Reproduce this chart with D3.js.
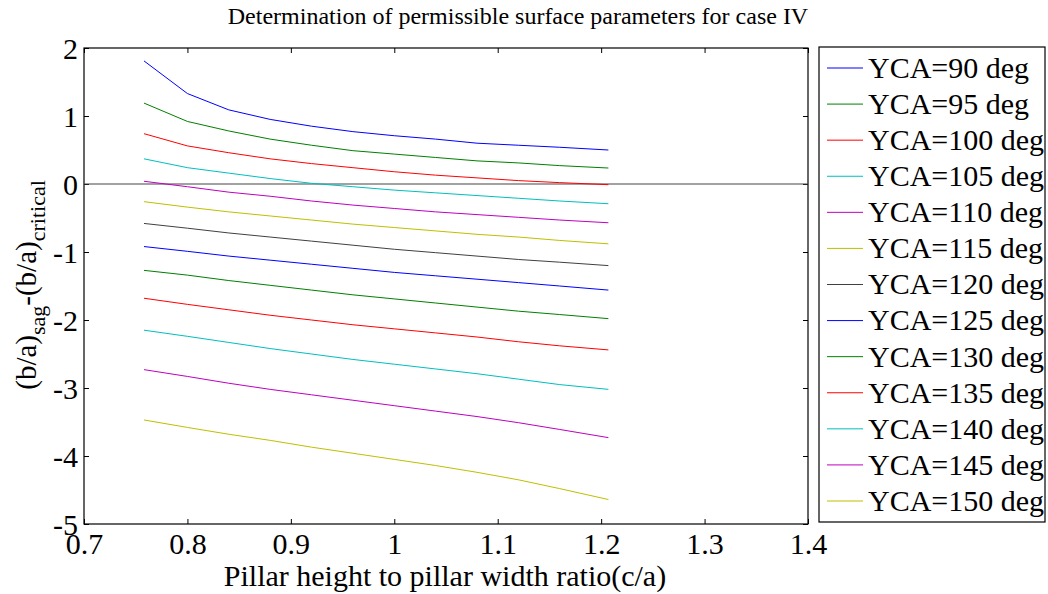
<!DOCTYPE html>
<html>
<head>
<meta charset="utf-8">
<script src="https://cdn.jsdelivr.net/npm/d3@7"></script>
<style>
  body { margin: 0; background: #fff; }
  svg text { font-family: 'Liberation Serif', serif !important; fill: #000; }
</style>
</head>
<body>
<div id="chart"></div>
<script>
'use strict';

// c/a values shared by every curve
const ratios = [0.758, 0.80, 0.84, 0.88, 0.92, 0.96, 1.00, 1.04, 1.08, 1.12, 1.16, 1.207];

// YCA angles (deg) for the legend
const angles = [90, 95, 100, 105, 110, 115, 120, 125, 130, 135, 140, 145, 150];

// (b/a)sag - (b/a)critical, one array per angle
const yca90  = [1.81, 1.33, 1.09, 0.95, 0.85, 0.77, 0.71, 0.66, 0.60, 0.57, 0.54, 0.50];
const yca95  = [1.19, 0.92, 0.78, 0.66, 0.57, 0.49, 0.44, 0.39, 0.34, 0.31, 0.27, 0.235];
const yca100 = [0.74, 0.56, 0.46, 0.37, 0.30, 0.24, 0.18, 0.13, 0.09, 0.05, 0.02, -0.01];
const yca105 = [0.37, 0.24, 0.16, 0.08, 0.01, -0.04, -0.09, -0.13, -0.17, -0.21, -0.25, -0.29];
const yca110 = [0.04, -0.04, -0.12, -0.18, -0.25, -0.31, -0.36, -0.41, -0.45, -0.49, -0.53, -0.57];
const yca115 = [-0.26, -0.34, -0.41, -0.47, -0.53, -0.59, -0.64, -0.69, -0.74, -0.78, -0.83, -0.88];
const yca120 = [-0.58, -0.65, -0.72, -0.78, -0.84, -0.90, -0.96, -1.01, -1.06, -1.11, -1.15, -1.20];
const yca125 = [-0.92, -0.99, -1.06, -1.12, -1.18, -1.24, -1.30, -1.35, -1.40, -1.45, -1.50, -1.56];
const yca130 = [-1.27, -1.34, -1.42, -1.49, -1.56, -1.63, -1.69, -1.75, -1.81, -1.87, -1.92, -1.98];
const yca135 = [-1.68, -1.77, -1.85, -1.93, -2.00, -2.07, -2.13, -2.19, -2.25, -2.32, -2.38, -2.44];
const yca140 = [-2.15, -2.24, -2.33, -2.42, -2.50, -2.58, -2.65, -2.72, -2.79, -2.87, -2.95, -3.02];
const yca145 = [-2.73, -2.83, -2.93, -3.02, -3.10, -3.18, -3.26, -3.34, -3.42, -3.51, -3.61, -3.73];
const yca150 = [-3.47, -3.58, -3.68, -3.77, -3.87, -3.96, -4.05, -4.14, -4.24, -4.35, -4.48, -4.64];

const seriesValues = [yca90, yca95, yca100, yca105, yca110, yca115, yca120,
                      yca125, yca130, yca135, yca140, yca145, yca150];

const xTicks = [0.7, 0.8, 0.9, 1.0, 1.1, 1.2, 1.3, 1.4];
const yTicks = [-5, -4, -3, -2, -1, 0, 1, 2];

// matlab default line colours, cycling
const colors = ['#0000ff', '#008000', '#ff0000', '#00bfbf', '#bf00bf', '#bfbf00', '#404040'];

const FONT = "'Liberation Serif', serif";
const width = 1048, height = 594;
const margin = {top: 48, right: 240, bottom: 70, left: 84};
const plotW = width - margin.left - margin.right;   // 724
const plotH = height - margin.top - margin.bottom;  // 476

const svg = d3.select('#chart').append('svg')
    .attr('width', width)
    .attr('height', height)
    .style('font-family', FONT);

const g = svg.append('g')
    .attr('transform', `translate(${margin.left},${margin.top})`);

const x = d3.scaleLinear().domain([0.7, 1.4]).range([0, plotW]);
const y = d3.scaleLinear().domain([-5, 2]).range([plotH, 0]);

// axes, ticks pointing inward like matlab (plain hyphen for minus)
const fmt = d => String(d);
const styleAxis = sel => {
    sel.attr('font-family', FONT);
    sel.select('.domain').remove();
    sel.selectAll('line').attr('stroke', '#000');
    sel.selectAll('text').style('font-size', '30px').style('font-family', FONT).attr('fill', '#000');
};

g.append('g')
    .attr('transform', `translate(0,${plotH})`)
    .call(d3.axisBottom(x).tickValues(xTicks).tickSize(-5).tickPadding(9).tickFormat(fmt))
    .call(styleAxis);

g.append('g')
    .call(d3.axisTop(x).tickValues(xTicks).tickSize(-5).tickFormat(''))
    .call(styleAxis);

g.append('g')
    .call(d3.axisLeft(y).tickValues(yTicks).tickSize(-5).tickPadding(6).tickFormat(fmt))
    .call(styleAxis)
    .selectAll('text').attr('dy', '0.34em');

g.append('g')
    .attr('transform', `translate(${plotW},0)`)
    .call(d3.axisRight(y).tickValues(yTicks).tickSize(-5).tickFormat(''))
    .call(styleAxis);

// box
g.append('rect')
    .attr('width', plotW).attr('height', plotH)
    .attr('fill', 'none').attr('stroke', '#000').attr('stroke-width', 1.2);

// zero reference line
g.append('line')
    .attr('x1', x(0.7)).attr('x2', x(1.4))
    .attr('y1', y(0)).attr('y2', y(0))
    .attr('stroke', '#444').attr('stroke-width', 1.2);

const line = d3.line().x((d, i) => x(ratios[i])).y(d => y(d));

g.selectAll('path.curve')
    .data(seriesValues)
    .join('path')
    .classed('curve', true)
    .attr('d', line)
    .attr('fill', 'none')
    .attr('stroke', (d, i) => colors[i % colors.length])
    .attr('stroke-width', 1);

// title
svg.append('text')
    .attr('x', 518).attr('y', 24)
    .attr('text-anchor', 'middle')
    .style('font-size', '24px')
    .text('Determination of permissible surface parameters for case IV');

// x label
svg.append('text')
    .attr('x', margin.left + plotW / 2 - 1).attr('y', 586)
    .attr('text-anchor', 'middle')
    .style('font-size', '30px')
    .text('Pillar height to pillar width ratio(c/a)');

// y label with subscripts
const yl = svg.append('text')
    .attr('transform', `translate(36,${margin.top + plotH / 2 - 1}) rotate(-90)`)
    .attr('text-anchor', 'middle')
    .style('font-size', '29px');
yl.append('tspan').text('(b/a)');
yl.append('tspan').attr('dy', 9).style('font-size', '22px').text('sag');
yl.append('tspan').attr('dy', -9).text('-(b/a)');
yl.append('tspan').attr('dy', 9).style('font-size', '22px').text('critical');

// legend
const legX = 819, legY = 47, legW = 226, legH = 475;
const leg = svg.append('g');
leg.append('rect')
    .attr('x', legX).attr('y', legY)
    .attr('width', legW).attr('height', legH)
    .attr('fill', '#fff').attr('stroke', '#000').attr('stroke-width', 1.2);

const legRow = d3.scalePoint().domain(angles).range([68, 501]);

const items = leg.selectAll('g.item')
    .data(angles)
    .join('g')
    .classed('item', true)
    .attr('transform', d => `translate(0,${legRow(d)})`);

items.append('line')
    .attr('x1', 827).attr('x2', 863)
    .attr('stroke', (d, i) => colors[i % colors.length])
    .attr('stroke-width', 1);

items.append('text')
    .attr('x', 868).attr('dy', '0.33em')
    .style('font-size', '30px')
    .text(d => `YCA=${d} deg`);
</script>
</body>
</html>
